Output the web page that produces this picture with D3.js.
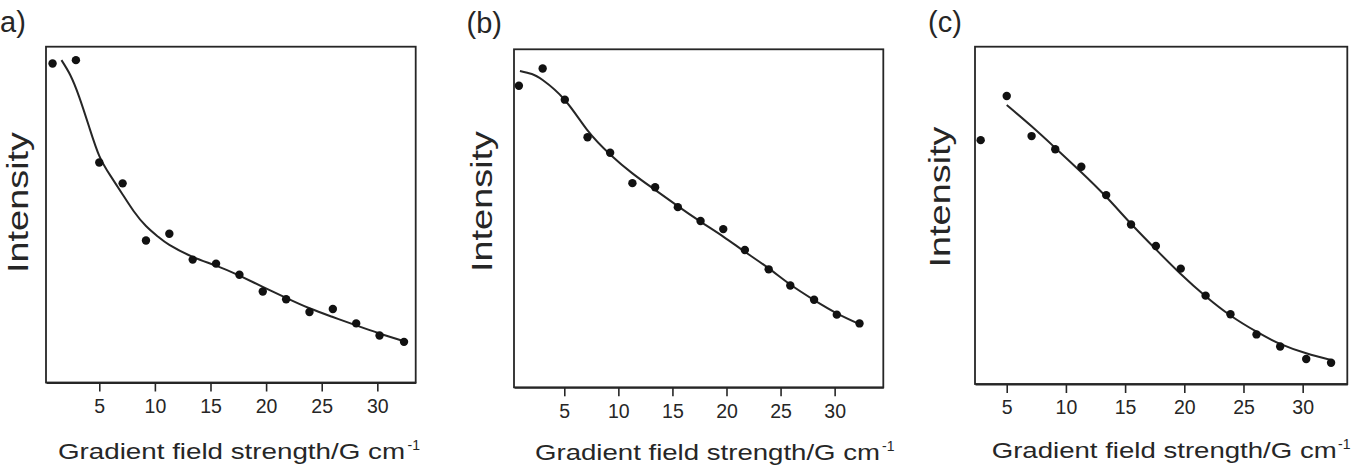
<!DOCTYPE html>
<html>
<head>
<meta charset="utf-8">
<script src="https://cdn.jsdelivr.net/npm/d3@7"></script>
<style>
  body { margin: 0; background: #fff; }
  svg { display: block; font-family: "Liberation Sans", Arial, sans-serif; }
</style>
</head>
<body>
<div class="chart"></div>
<script>
var width = 1351, height = 468;

// tick labels shared by the three panels
var xTicks = [5, 10, 15, 20, 25, 30];
var panelLabels = ["a)", "(b)", "(c)"];

// panel (a)
var xA = [0.8, 2.9, 5.0, 7.1, 9.2, 11.3, 13.4, 15.5, 17.6, 19.7, 21.8, 23.9, 26.0, 28.1, 30.2, 32.4];
var intA = [95.0, 96.0, 65.5, 59.3, 42.3, 44.3, 36.6, 35.4, 32.1, 27.1, 24.8, 21.0, 21.9, 17.6, 14.0, 12.1];
var fitXA = [1.6, 2.4, 3.2, 4.1, 5.0, 6.0, 7.1, 8.1, 9.2, 10.3, 11.3, 13.4, 15.5, 17.6, 19.7, 21.8, 23.9, 26.0, 28.1, 30.2, 32.4];
var fitA = [96.0, 91.5, 85.0, 76.0, 67.5, 61.6, 56.0, 51.0, 46.6, 43.4, 41.0, 37.4, 34.8, 31.8, 28.5, 25.2, 22.1, 19.5, 17.0, 14.6, 12.3];

// panel (b)
var xB = [0.8, 3.0, 5.05, 7.15, 9.24, 11.3, 13.4, 15.5, 17.6, 19.7, 21.7, 23.9, 25.9, 28.1, 30.2, 32.3];
var intB = [89.2, 94.3, 85.1, 74.0, 69.4, 60.4, 59.2, 53.3, 49.2, 46.8, 40.6, 34.9, 30.1, 25.9, 21.5, 18.9];
var fitXB = [0.9, 2.0, 3.0, 5.05, 7.15, 9.24, 11.3, 13.4, 15.5, 17.6, 19.7, 21.7, 23.9, 25.9, 28.1, 30.2, 32.3];
var fitB = [93.6, 92.7, 90.9, 85.0, 76.0, 68.9, 63.3, 58.4, 53.6, 49.0, 44.6, 40.1, 35.2, 30.4, 25.8, 21.9, 18.7];

// panel (c)
var xC = [2.8, 5.0, 7.1, 9.1, 11.3, 13.4, 15.5, 17.6, 19.7, 21.8, 23.9, 26.1, 28.1, 30.3, 32.4];
var intC = [72.3, 85.4, 73.5, 69.6, 64.4, 56.0, 47.3, 40.9, 34.2, 26.2, 20.7, 14.7, 11.1, 7.4, 6.3];
var fitXC = [5.0, 7.1, 9.1, 11.3, 13.4, 15.5, 17.6, 19.7, 21.8, 23.9, 26.1, 28.1, 30.3, 32.4];
var fitC = [82.7, 76.4, 70.0, 62.8, 55.5, 47.5, 39.9, 32.6, 26.0, 20.3, 15.5, 11.9, 9.1, 7.1];

// visible x range of each frame
var xDomains = [[0.21, 33.45], [0.35, 34.5], [2.32, 33.77]];

var panels = [
    { box: [46, 46.7, 415.7, 382.5], lab: [0, 32], ylab: [28, 202.5], title: [58, 459], tlen: 347, sup: [407.5, 450],
      x: xA, y: intA, fx: fitXA, fy: fitA },
    { box: [514, 49.3, 883.3, 387.3], lab: [466.5, 33], ylab: [492, 201.5], title: [535, 460], tlen: 345, sup: [882, 451],
      x: xB, y: intB, fx: fitXB, fy: fitB },
    { box: [975, 46.7, 1347.3, 384], lab: [928, 32], ylab: [950, 197], title: [991.7, 458], tlen: 345, sup: [1338, 449],
      x: xC, y: intC, fx: fitXC, fy: fitC }
];

var ink = "#262626";

var svg = d3.select(".chart")
            .append("svg")
            .attr("width", width)
            .attr("height", height);

panels.forEach(function(p, i) {
    var l = p.box[0], t = p.box[1], r = p.box[2], b = p.box[3];

    var x = d3.scaleLinear().domain(xDomains[i]).range([l, r]);
    var y = d3.scaleLinear().domain([0, 100]).range([b, t]);

    var g = svg.append("g");

    // frame
    g.append("rect")
     .attr("x", l).attr("y", t)
     .attr("width", r - l).attr("height", b - t)
     .attr("fill", "none")
     .attr("stroke", ink)
     .attr("stroke-width", 1.8);

    // x axis
    var axis = g.append("g")
        .attr("transform", "translate(0," + b + ")")
        .call(d3.axisBottom(x).tickValues(xTicks).tickSize(9).tickSizeOuter(0).tickPadding(7.5));
    axis.select(".domain").attr("stroke", ink).attr("stroke-width", 1.8);
    axis.selectAll(".tick line").attr("stroke", ink).attr("stroke-width", 1.6);
    axis.selectAll(".tick text")
        .attr("fill", ink)
        .style("font-size", "19.5px")
        .style("font-family", "'Liberation Sans', Arial, sans-serif");

    // fitted curve
    var line = d3.line()
        .x(function(d) { return x(d[0]); })
        .y(function(d) { return y(d[1]); })
        .curve(d3.curveNatural);
    g.append("path")
     .datum(p.fx.map(function(v, k) { return [v, p.fy[k]]; }))
     .attr("d", line)
     .attr("fill", "none")
     .attr("stroke", ink)
     .attr("stroke-width", 2);

    // data points
    g.selectAll("circle")
     .data(p.x.map(function(v, k) { return [v, p.y[k]]; }))
     .enter().append("circle")
     .attr("cx", function(d) { return x(d[0]); })
     .attr("cy", function(d) { return y(d[1]); })
     .attr("r", 4.2)
     .attr("fill", "#111");

    // panel label
    g.append("text")
     .attr("x", p.lab[0]).attr("y", p.lab[1])
     .attr("fill", ink)
     .style("font-size", "29px")
     .text(panelLabels[i]);

    // y label
    g.append("text")
     .attr("transform", "translate(" + p.ylab[0] + "," + p.ylab[1] + ") rotate(-90)")
     .attr("text-anchor", "middle")
     .attr("textLength", 141)
     .attr("lengthAdjust", "spacingAndGlyphs")
     .attr("fill", ink)
     .style("font-size", "30px")
     .text("Intensity");

    // x title
    g.append("text")
     .attr("x", p.title[0]).attr("y", p.title[1])
     .attr("textLength", p.tlen)
     .attr("lengthAdjust", "spacingAndGlyphs")
     .attr("fill", ink)
     .style("font-size", "22px")
     .text("Gradient field strength/G cm");

    g.append("text")
     .attr("x", p.sup[0]).attr("y", p.sup[1])
     .attr("fill", ink)
     .style("font-size", "14px")
     .text("-1");
});
</script>
</body>
</html>
